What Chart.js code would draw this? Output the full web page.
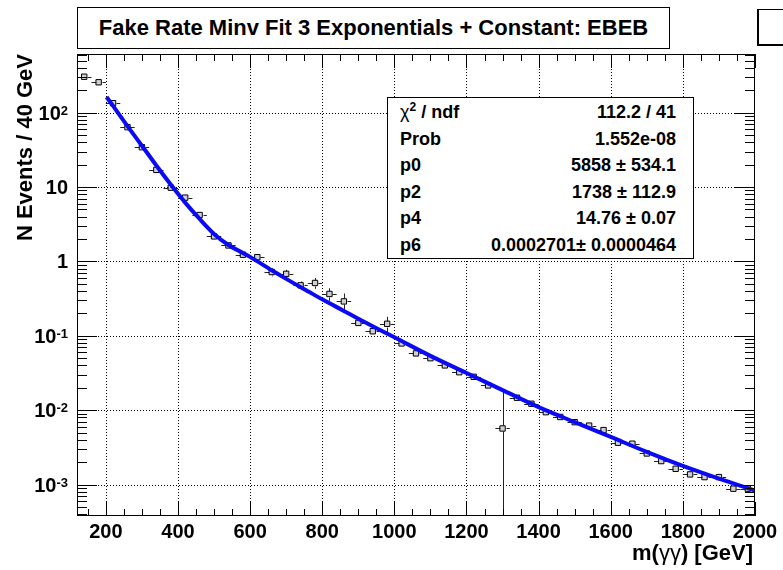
<!DOCTYPE html>
<html>
<head>
<meta charset="utf-8">
<title>Fake Rate Minv Fit</title>
<script src="https://cdn.jsdelivr.net/npm/chart.js@4.4.1/dist/chart.umd.min.js"></script>
<style>
  body { margin: 0; background: #fff; }
  #wrap { position: relative; width: 783px; height: 570px; overflow: hidden; font-family: "Liberation Sans", Arial, sans-serif; }
  #wrap canvas { position: absolute; left: 0; top: 0; }
  .pave { position: absolute; background: #fff; border: 1px solid #000; box-sizing: border-box; }
  #title { left: 77px; top: 7px; width: 593px; height: 42px; font-weight: bold; font-size: 22px; text-align: center; line-height: 40px; white-space: nowrap; }
  #stats { left: 387px; top: 97px; width: 307px; height: 162px; font-weight: bold; font-size: 18px; padding: 1px 17px 0 12px; }
  #stats .row { display: flex; justify-content: space-between; height: 26.5px; line-height: 26.5px; white-space: nowrap; }
  #stats .sup { font-size: 12px; position: relative; top: -7px; }
  #corner { left: 757px; top: 9px; width: 40px; height: 37px; border-left-width: 2px; border-bottom-width: 2px; }
</style>
</head>
<body>
<div id="wrap">
  <canvas id="fitChart" width="783" height="570"></canvas>
  <div class="pave" id="title">Fake Rate Minv Fit 3 Exponentials + Constant: EBEB</div>
  <div class="pave" id="stats">
    <div class="row"><span><span style="font-weight:normal">&chi;</span><span class="sup">2</span> / ndf</span><span>112.2 / 41</span></div>
    <div class="row"><span>Prob</span><span>1.552e-08</span></div>
    <div class="row"><span>p0</span><span>5858 &plusmn; 534.1</span></div>
    <div class="row"><span>p2</span><span>1738 &plusmn; 112.9</span></div>
    <div class="row"><span>p4</span><span>14.76 &plusmn; 0.07</span></div>
    <div class="row"><span>p6</span><span>0.0002701&plusmn; 0.0000464</span></div>
  </div>
  <div class="pave" id="corner"></div>
</div>
<script>
// histogram: 40 GeV bins from 120 to 2000
const binWidth = 40;
const binCenters = [
  140, 180, 220, 260, 300, 340, 380, 420, 460, 500,
  540, 580, 620, 660, 700, 740, 780, 820, 860, 900,
  940, 980, 1020, 1060, 1100, 1140, 1180, 1220, 1260, 1300,
  1340, 1380, 1420, 1460, 1500, 1540, 1580, 1620, 1660, 1700,
  1740, 1780, 1820, 1860, 1900, 1940, 1980
];
const counts = [
  304, 256, 134, 63.7, 34.3, 17.0, 9.8, 7.2, 4.2, 2.17,
  1.64, 1.23, 1.14, 0.72, 0.68, 0.477, 0.513, 0.365, 0.29, 0.149,
  0.115, 0.145, 0.079, 0.058, 0.050, 0.040, 0.0324, 0.0281, 0.0215, 0.00568,
  0.0147, 0.0122, 0.0094, 0.0081, 0.0069, 0.0062, 0.0054, 0.00365, 0.00354, 0.00262,
  0.00207, 0.00163, 0.00137, 0.00126, 0.00126, 0.00088, 0.00088
];
const countErrors = [
  8, 7, 5, 3, 2, 1, 0.6, 0.5, 0.3, 0.15,
  0.12, 0.1, 0.1, 0.09, 0.09, 0.06, 0.085, 0.07, 0.08, 0.015,
  0.01, 0.035, 0.006, 0.004, 0.003, 0.002, 0.0016, 0.0014, 0.001, 0.0121,
  0.0007, 0.0006, 0.0004, 0.0004, 0.0003, 0.0003, 0.00025, 0.00015, 0.00015, 0.0001,
  0.00008, 0.00006, 0.00005, 0.00005, 0.00005, 0.00003, 0.00003
];

// fitted function, sampled along the drawn curve
const fitMass = [202, 220, 260, 300, 340, 380, 420, 460, 500, 540, 580, 600, 660, 700, 760,
  800, 860, 900, 960, 1000, 1100, 1200, 1300, 1400, 1500, 1600, 1700, 1800, 1900, 2000];
const fitValue = [162, 123, 66, 35.9, 19.5, 10.8, 6.17, 3.72, 2.34, 1.66, 1.30, 1.15, 0.759, 0.582, 0.398,
  0.309, 0.216, 0.170, 0.120, 0.0955, 0.0537, 0.0316, 0.0186, 0.0110, 0.00692, 0.00437, 0.00275, 0.00178, 0.00120, 0.00083];

const xTickValues = [200, 400, 600, 800, 1000, 1200, 1400, 1600, 1800, 2000];
const yDecades = [-3, -2, -1, 0, 1, 2];

const xMin = 120, xMax = 2000;
const yMin = 3.78e-4, yMax = 614;

const FONT = '"Liberation Sans", Arial, sans-serif';

// dotted grid behind everything, frame/ticks/labels on top
const rootFrame = {
  id: 'rootFrame',
  beforeDatasetsDraw(chart) {
    const { ctx, chartArea: a, scales: { x, y } } = chart;
    ctx.save();
    ctx.strokeStyle = '#000';
    ctx.lineWidth = 1;
    ctx.setLineDash([1, 2]);
    ctx.beginPath();
    xTickValues.forEach(v => {
      const px = Math.round(x.getPixelForValue(v)) + 0.5;
      if (px >= a.right - 1) return;
      ctx.moveTo(px, a.top);
      ctx.lineTo(px, a.bottom);
    });
    yDecades.forEach(d => {
      const py = Math.round(y.getPixelForValue(Math.pow(10, d))) + 0.5;
      ctx.moveTo(a.left, py);
      ctx.lineTo(a.right, py);
    });
    ctx.stroke();
    ctx.restore();
  },
  afterDraw(chart) {
    const { ctx, chartArea: a, scales: { x, y } } = chart;
    ctx.save();
    ctx.strokeStyle = '#000';
    ctx.lineWidth = 1;
    ctx.beginPath();
    // x ticks, major every 200, minor every 50
    for (let v = 150; v <= xMax; v += 50) {
      const px = Math.round(x.getPixelForValue(v)) + 0.5;
      const len = v % 200 === 0 ? 14 : 7;
      ctx.moveTo(px, a.bottom); ctx.lineTo(px, a.bottom - len);
      ctx.moveTo(px, a.top); ctx.lineTo(px, a.top + len);
    }
    // y ticks on log scale
    for (let d = -4; d <= 2; d++) {
      for (let k = 1; k <= 9; k++) {
        const v = k * Math.pow(10, d);
        if (v < yMin || v > yMax) continue;
        const py = Math.round(y.getPixelForValue(v)) + 0.5;
        const len = k === 1 ? 20 : 10;
        ctx.moveTo(a.left, py); ctx.lineTo(a.left + len, py);
        ctx.moveTo(a.right, py); ctx.lineTo(a.right - len, py);
      }
    }
    ctx.stroke();
    ctx.strokeRect(a.left + 0.5, a.top + 0.5, a.right - a.left - 1, a.bottom - a.top - 1);

    // tick labels
    ctx.fillStyle = '#000';
    ctx.font = 'bold 20px ' + FONT;
    ctx.textAlign = 'center';
    ctx.textBaseline = 'alphabetic';
    xTickValues.forEach(v => ctx.fillText(String(v), x.getPixelForValue(v), 538));

    ctx.textAlign = 'right';
    yDecades.forEach(d => {
      const py = y.getPixelForValue(Math.pow(10, d));
      const right = 68;
      if (d === 0 || d === 1) {
        ctx.font = 'bold 20px ' + FONT;
        ctx.fillText(d === 0 ? '1' : '10', right, py + 7);
      } else {
        const exp = d < 0 ? '-' + (-d) : String(d);
        ctx.font = 'bold 13px ' + FONT;
        const ew = ctx.measureText(exp).width;
        ctx.fillText(exp, right, py + 2);
        ctx.font = 'bold 20px ' + FONT;
        ctx.fillText('10', right - ew, py + 7);
      }
    });

    // axis titles
    ctx.font = 'bold 22px ' + FONT;
    ctx.save();
    ctx.translate(32, a.top);
    ctx.rotate(-Math.PI / 2);
    ctx.textAlign = 'right';
    ctx.fillText('N Events / 40 GeV', 0, 0);
    ctx.restore();

    // m(γγ) [GeV], gamma in plain weight
    const parts = [['bold', ') [GeV]'], ['normal', '\u03b3\u03b3'], ['bold', 'm(']];
    let xr = 753;
    ctx.textAlign = 'right';
    parts.forEach(([w, t]) => {
      ctx.font = w + ' 22px ' + FONT;
      ctx.fillText(t, xr, 560);
      xr -= ctx.measureText(t).width;
    });
    ctx.restore();
  }
};

// bin-width and statistical error bars, stopping at the marker edge
const errorBars = {
  id: 'errorBars',
  beforeDatasetsDraw(chart) {
    const { ctx, chartArea: a, scales: { x, y } } = chart;
    ctx.save();
    ctx.beginPath();
    ctx.rect(a.left, a.top, a.right - a.left, a.bottom - a.top);
    ctx.clip();
    ctx.strokeStyle = '#222';
    ctx.lineWidth = 1;
    ctx.beginPath();
    const m = 3;
    binCenters.forEach((c, i) => {
      const px = Math.round(x.getPixelForValue(c)) + 0.5;
      const py = Math.round(y.getPixelForValue(counts[i])) + 0.5;
      const xl = x.getPixelForValue(c - binWidth / 2);
      const xr = x.getPixelForValue(c + binWidth / 2);
      ctx.moveTo(xl, py); ctx.lineTo(px - m, py);
      ctx.moveTo(px + m, py); ctx.lineTo(xr, py);
      const top = y.getPixelForValue(counts[i] + countErrors[i]);
      const lo = counts[i] - countErrors[i];
      const bot = lo > 0 ? y.getPixelForValue(lo) : a.bottom;
      if (top < py - m) { ctx.moveTo(px, py - m); ctx.lineTo(px, top); }
      if (bot > py + m) { ctx.moveTo(px, py + m); ctx.lineTo(px, bot); }
    });
    ctx.stroke();
    ctx.restore();
  }
};

const ctx = document.getElementById('fitChart').getContext('2d');
new Chart(ctx, {
  type: 'scatter',
  data: {
    datasets: [
      {
        type: 'line',
        label: 'fit',
        data: fitMass.map((m, i) => ({ x: m, y: fitValue[i] })),
        borderColor: '#0a0af5',
        borderWidth: 4,
        pointRadius: 0,
        cubicInterpolationMode: 'monotone',
        fill: false,
        order: 0
      },
      {
        label: 'data',
        data: binCenters.map((c, i) => ({ x: c, y: counts[i] })),
        pointStyle: 'rect',
        pointRadius: 3.8,
        borderWidth: 1,
        borderColor: '#000',
        backgroundColor: 'rgba(150,150,150,0.45)',
        order: 1
      }
    ]
  },
  options: {
    responsive: false,
    animation: false,
    events: [],
    layout: { padding: { left: 77, right: 28, top: 54, bottom: 54 } },
    plugins: { legend: { display: false }, tooltip: { enabled: false } },
    scales: {
      x: { type: 'linear', min: xMin, max: xMax, display: false },
      y: { type: 'logarithmic', min: yMin, max: yMax, display: false }
    }
  },
  plugins: [rootFrame, errorBars]
});
</script>
</body>
</html>
